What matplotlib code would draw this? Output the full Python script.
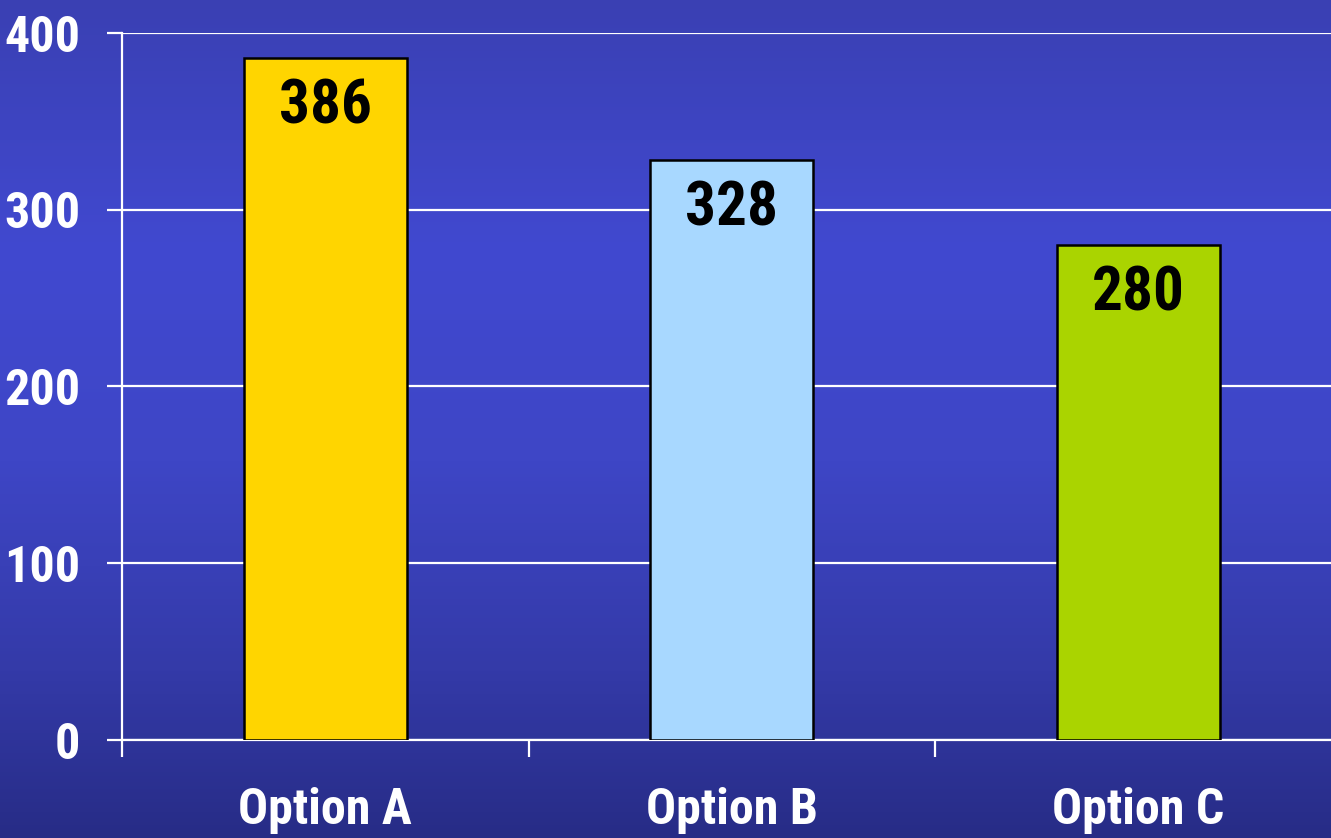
import numpy as np
import matplotlib
matplotlib.use("Agg")
import matplotlib.pyplot as plt
from matplotlib import font_manager
from matplotlib.colors import LinearSegmentedColormap

categories = ["Option A", "Option B", "Option C"]
values = [386, 328, 280]
bar_colors = ["#FFD500", "#A8D8FF", "#AAD400"]
y_ticks = [0, 100, 200, 300, 400]

names = {f.name for f in font_manager.fontManager.ttflist}
narrow = [f for f in ["Liberation Sans Narrow", "Arial Narrow", "Roboto Condensed",
                      "PT Sans Narrow", "Archivo Narrow"] if f in names]
if narrow:
    fam = [narrow[0], "DejaVu Sans"]
    big, lab = 44, 36
else:
    fam = ["Liberation Sans", "DejaVu Sans"]
    big, lab = 40, 31
plt.rcParams["font.family"] = fam

fig = plt.figure(figsize=(13.31, 8.38), dpi=100)

# gradient background
bg = fig.add_axes([0, 0, 1, 1], zorder=-10)
cmap = LinearSegmentedColormap.from_list(
    "bg", [(0.0, "#3a40b3"), (0.3, "#4149d0"), (0.55, "#3e46c6"), (0.8, "#343aa8"), (1.0, "#272c86")])
grad = np.linspace(0, 1, 256).reshape(-1, 1)
bg.imshow(grad, aspect="auto", cmap=cmap, extent=[0, 1, 1, 0])
bg.set_axis_off()

ax = fig.add_axes([122 / 1331, 1 - 740 / 838, (3 * 406.5) / 1331, (740 - 33) / 838])
ax.patch.set_alpha(0)
x = np.arange(len(categories))
ax.set_xlim(-0.5, len(categories) - 0.5)
ax.set_ylim(0, 400)

ax.bar(x, values, width=0.4, color=bar_colors, edgecolor="black", linewidth=1.8, zorder=3)
for xi, v in zip(x, values):
    ax.annotate(str(v), (xi, v), xytext=(0, -35), textcoords="offset points",
                ha="center", va="center", fontsize=big, fontweight="bold", color="black", zorder=4)

ax.set_yticks(y_ticks)
ax.set_yticklabels([str(t) for t in y_ticks])
ax.yaxis.grid(True, color="white", linewidth=1.6, zorder=1)
ax.set_axisbelow(True)

ax.set_xticks(np.arange(-0.5, len(categories) + 0.5, 1.0))
ax.set_xticklabels([])
ax.set_xticks(x, minor=True)
ax.set_xticklabels(categories, minor=True)

ax.tick_params(axis="y", direction="out", length=11, width=1.6, color="white",
               labelcolor="white", labelsize=lab, pad=19)
for t in ax.get_yticklabels():
    t.set_fontweight("bold")
ax.tick_params(axis="x", which="major", direction="out", length=12, width=1.6, color="white")
ax.tick_params(axis="x", which="minor", length=0, labelcolor="white", labelsize=lab, pad=34)
for t in ax.get_xticklabels(minor=True):
    t.set_fontweight("bold")

for s in ["top", "right"]:
    ax.spines[s].set_visible(False)
for s in ["left", "bottom"]:
    ax.spines[s].set_color("white")
    ax.spines[s].set_linewidth(1.6)

fig.savefig("out.png", dpi=100)
